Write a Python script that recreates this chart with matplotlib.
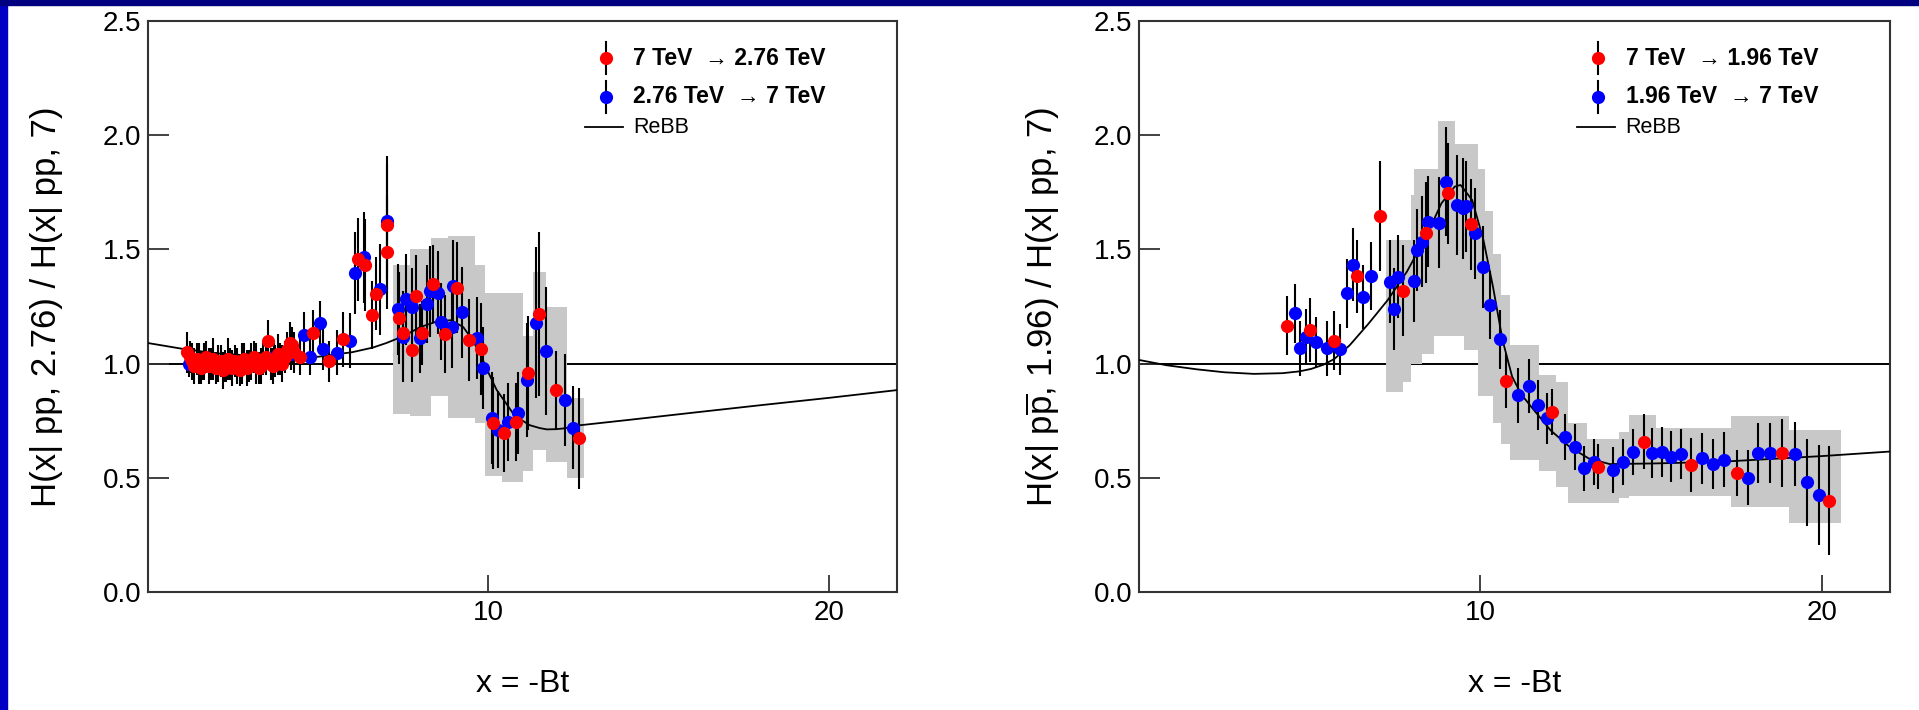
import numpy as np
import matplotlib
matplotlib.use("Agg")
import matplotlib.pyplot as plt
from matplotlib.patches import Rectangle

plt.rcParams['font.family'] = ['Liberation Sans', 'DejaVu Sans']
plt.rcParams['mathtext.fontset'] = 'custom'
plt.rcParams['mathtext.rm'] = 'Liberation Sans'

# ---------------- left panel: 7 TeV <-> 2.76 TeV ----------------
L_red_x = [1.15, 1.22, 1.29, 1.36, 1.43, 1.50, 1.57, 1.64, 1.71, 1.78, 1.85, 1.92, 1.99,
           2.06, 2.13, 2.20, 2.27, 2.34, 2.41, 2.48, 2.55, 2.62, 2.69, 2.76, 2.83, 2.90,
           2.97, 3.04, 3.11, 3.18, 3.25, 3.32, 3.39, 3.46, 3.60, 3.67, 3.74, 3.81, 3.88,
           3.95, 4.02, 4.09, 4.16, 4.23, 4.30,
           3.53, 4.47, 4.86, 5.32, 5.74, 6.18, 6.37, 6.59, 6.69, 7.03, 7.03, 7.38, 7.48,
           7.74, 7.87, 8.06, 8.38, 8.73, 9.09, 9.43, 9.77, 10.12, 10.45, 10.80, 11.15,
           11.49, 11.98, 12.67]
L_red_y = [1.05, 1.03, 1.01, 0.99, 1.02, 1.00, 0.98, 1.01, 1.03, 0.99, 1.00, 1.02, 0.98,
           1.00, 1.01, 0.97, 0.99, 1.02, 1.00, 0.98, 1.01, 0.99, 0.97, 1.00, 1.02, 0.98,
           0.99, 1.01, 1.03, 1.00, 0.98, 0.99, 1.02, 1.03, 1.00, 0.99, 1.01, 1.04, 1.02,
           1.00, 1.03, 1.06, 1.09, 1.08, 1.05,
           1.10, 1.03, 1.135, 1.01, 1.107, 1.456, 1.432, 1.212, 1.305, 1.607, 1.49, 1.20,
           1.132, 1.06, 1.294, 1.134, 1.348, 1.129, 1.332, 1.102, 1.064, 0.74, 0.696,
           0.743, 0.96, 1.217, 0.885, 0.673]
L_red_e = [0.09, 0.07, 0.08, 0.08, 0.07, 0.09, 0.07, 0.08, 0.07, 0.08, 0.07, 0.09, 0.07,
           0.08, 0.07, 0.08, 0.07, 0.09, 0.07, 0.08, 0.07, 0.08, 0.07, 0.09, 0.07, 0.08,
           0.07, 0.08, 0.07, 0.09, 0.07, 0.08, 0.07, 0.08, 0.07, 0.08, 0.07, 0.09, 0.07,
           0.08, 0.07, 0.08, 0.09, 0.08, 0.09,
           0.09, 0.08, 0.10, 0.09, 0.12, 0.18, 0.20, 0.15, 0.16, 0.30, 0.25, 0.20, 0.16,
           0.14, 0.18, 0.14, 0.17, 0.17, 0.20, 0.18, 0.20, 0.20, 0.17, 0.17, 0.25, 0.36,
           0.17, 0.22]

L_blue_x = [1.20, 1.60, 2.30, 3.00, 3.70, 4.20,
            4.58, 4.76, 5.05, 5.15, 5.54, 5.93, 6.08, 6.33, 6.81, 7.03, 7.33, 7.50, 7.58,
            7.74, 8.00, 8.20, 8.28, 8.53, 8.62, 8.92, 8.97, 9.23, 9.65, 9.83, 10.09, 10.29,
            10.58, 10.88, 11.12, 11.39, 11.69, 12.25, 12.49]
L_blue_y = [1.00, 0.99, 0.98, 1.00, 1.03, 1.04,
            1.125, 1.03, 1.176, 1.064, 1.048, 1.10, 1.395, 1.465, 1.325, 1.624, 1.237,
            1.118, 1.281, 1.249, 1.11, 1.26, 1.316, 1.311, 1.184, 1.162, 1.341, 1.225,
            1.112, 0.981, 0.762, 0.711, 0.743, 0.784, 0.928, 1.179, 1.055, 0.841, 0.72]
L_blue_e = [0.06, 0.06, 0.06, 0.06, 0.07, 0.07,
            0.10, 0.08, 0.10, 0.09, 0.10, 0.12, 0.18, 0.20, 0.20, 0.25, 0.20, 0.20, 0.20,
            0.17, 0.15, 0.17, 0.20, 0.18, 0.17, 0.18, 0.20, 0.20, 0.18, 0.18, 0.20, 0.17,
            0.17, 0.18, 0.25, 0.33, 0.28, 0.20, 0.18]

L_band_edges = [7.2, 7.7, 8.3, 8.8, 9.6, 9.9, 10.4, 11.0, 11.3, 11.7, 12.3, 12.8]
L_band_hi = [1.43, 1.50, 1.55, 1.56, 1.43, 1.31, 1.31, 1.12, 1.40, 1.25, 0.85]
L_band_lo = [0.78, 0.77, 0.86, 0.76, 0.74, 0.51, 0.48, 0.53, 0.62, 0.57, 0.50]

L_rebb_x = [0.0, 1.0, 2.0, 3.0, 4.0, 5.0, 6.0, 6.6, 7.0, 7.5, 8.0, 8.5, 8.9, 9.26, 9.5,
            9.75, 10.0, 10.24, 10.5, 10.73, 11.0, 11.22, 11.5, 11.71, 12.0, 12.2, 12.68,
            14.15, 16.0, 18.0, 20.0, 22.0]
L_rebb_y = [1.09, 1.065, 1.045, 1.035, 1.03, 1.03, 1.05, 1.07, 1.09, 1.12, 1.16, 1.185,
            1.19, 1.16, 1.11, 1.045, 0.96, 0.885, 0.83, 0.78, 0.75, 0.73, 0.718, 0.712,
            0.713, 0.716, 0.73, 0.754, 0.785, 0.818, 0.85, 0.884]

# ---------------- right panel: 7 TeV <-> 1.96 TeV ----------------
R_red_x = [4.35, 5.01, 5.70, 6.39, 7.07, 7.74, 8.41, 9.06, 9.73, 10.76, 12.11, 13.46,
           14.80, 16.17, 17.51, 18.85, 20.20]
R_red_y = [1.166, 1.147, 1.10, 1.383, 1.646, 1.319, 1.573, 1.745, 1.61, 0.925, 0.787,
           0.549, 0.658, 0.556, 0.52, 0.609, 0.40]
R_red_e = [0.13, 0.14, 0.13, 0.16, 0.24, 0.20, 0.22, 0.22, 0.20, 0.12, 0.10, 0.10, 0.12,
           0.12, 0.10, 0.15, 0.24]

R_blue_x = [4.58, 4.71, 4.88, 5.18, 5.50, 5.89, 6.09, 6.28, 6.56, 6.79, 7.35, 7.46, 7.60,
            8.05, 8.13, 8.30, 8.47, 8.80, 9.00, 9.31, 9.48, 9.59, 9.85, 10.07, 10.29,
            10.57, 11.10, 11.42, 11.70, 11.94, 12.47, 12.76, 13.04, 13.34, 13.90, 14.19,
            14.46, 15.03, 15.31, 15.59, 15.87, 16.50, 16.82, 17.15, 17.83, 18.14, 18.49,
            19.21, 19.57, 19.93]
R_blue_y = [1.22, 1.067, 1.118, 1.096, 1.067, 1.062, 1.308, 1.432, 1.293, 1.383, 1.359,
            1.238, 1.381, 1.36, 1.497, 1.534, 1.621, 1.617, 1.797, 1.694, 1.68, 1.688,
            1.57, 1.424, 1.257, 1.106, 0.862, 0.902, 0.819, 0.76, 0.68, 0.634, 0.541,
            0.57, 0.534, 0.57, 0.614, 0.607, 0.614, 0.593, 0.603, 0.585, 0.56, 0.579,
            0.50, 0.609, 0.609, 0.603, 0.48, 0.425]
R_blue_e = [0.13, 0.12, 0.12, 0.11, 0.12, 0.11, 0.15, 0.16, 0.14, 0.15, 0.18, 0.18, 0.18,
            0.18, 0.18, 0.20, 0.20, 0.20, 0.24, 0.22, 0.22, 0.20, 0.20, 0.18, 0.15, 0.13,
            0.12, 0.12, 0.11, 0.11, 0.10, 0.10, 0.10, 0.10, 0.10, 0.10, 0.10, 0.11, 0.11,
            0.11, 0.11, 0.11, 0.11, 0.12, 0.12, 0.13, 0.13, 0.14, 0.19, 0.22]

R_band_edges = [7.23, 7.74, 7.96, 8.05, 8.30, 8.64, 8.75, 9.25, 9.53, 9.92, 10.15, 10.37,
                10.60, 10.88, 11.72, 12.22, 12.56, 13.12, 14.07, 14.35, 15.14, 17.33,
                19.03, 20.55]
R_band_hi = [1.54, 1.54, 1.74, 1.85, 1.85, 1.85, 2.06, 1.96, 1.96, 1.85, 1.67, 1.48, 1.30,
             1.08, 0.95, 0.92, 0.74, 0.67, 0.70, 0.775, 0.72, 0.77, 0.71]
R_band_lo = [0.877, 0.92, 1.00, 1.00, 1.04, 1.12, 1.12, 1.12, 1.06, 0.857, 0.857, 0.74,
             0.649, 0.576, 0.53, 0.46, 0.39, 0.39, 0.41, 0.42, 0.42, 0.37, 0.30]

R_rebb_x = [0.0, 0.8, 1.69, 2.5, 3.37, 4.2, 4.7, 5.05, 5.4, 5.72, 6.17, 6.73, 7.29, 7.85,
            8.41, 8.86, 9.25, 9.42, 9.76, 10.09, 10.37, 10.65, 10.93, 11.2, 11.49, 12.05,
            12.61, 13.17, 13.79, 15.14, 17.02, 20.0, 22.0]
R_rebb_y = [1.016, 0.993, 0.975, 0.962, 0.955, 0.958, 0.966, 0.977, 0.995, 1.02, 1.08,
            1.176, 1.279, 1.403, 1.556, 1.702, 1.775, 1.782, 1.716, 1.541, 1.336, 1.103,
            0.943, 0.865, 0.811, 0.709, 0.636, 0.585, 0.56, 0.563, 0.57, 0.595, 0.615]

W, H = 1919, 710
fig = plt.figure(figsize=(W / 100, H / 100), dpi=100)
fig.patch.set_facecolor('white')
# slide frame
fig.patches.append(Rectangle((0, 0), 7 / W, 1, transform=fig.transFigure,
                             color='#0000c4', zorder=0))
fig.patches.append(Rectangle((0, 1 - 5 / H), 1, 5 / H, transform=fig.transFigure,
                             color='#000080', zorder=0))


def panel(left_px, right_px, ylabel, ylab_x, bx, blo, bhi, rx, ry, bxs, bys, bes,
          rxs, rys, res, leg):
    ax = fig.add_axes([left_px / W, 1 - 592 / H, (right_px - left_px) / W, 571 / H])
    ax.set_xlim(0, 22)
    ax.set_ylim(0, 2.5)
    ax.axhline(1.0, color='black', lw=1.4, zorder=1)
    ax.fill_between(bx, np.append(blo, blo[-1]), np.append(bhi, bhi[-1]), step='post',
                    color='#c8c8c8', lw=0, zorder=2)
    ax.plot(rx, ry, color='black', lw=1.3, zorder=3)
    ax.errorbar(bxs, bys, yerr=bes, fmt='none', ecolor='black', elinewidth=1.5, zorder=4)
    ax.errorbar(rxs, rys, yerr=res, fmt='none', ecolor='black', elinewidth=1.5, zorder=4)
    ax.plot(bxs, bys, 'o', color='#0000ff', ms=9.5, mew=0, zorder=5)
    ax.plot(rxs, rys, 'o', color='#ff0000', ms=9.5, mew=0, zorder=6)

    ax.set_xticks([10, 20])
    ax.set_yticks([0.0, 0.5, 1.0, 1.5, 2.0, 2.5])
    ax.set_yticklabels(['0.0', '0.5', '1.0', '1.5', '2.0', '2.5'])
    ax.tick_params(axis='x', direction='in', length=12, width=1.3, labelsize=20, pad=6,
                   color='#333333')
    ax.tick_params(axis='y', direction='in', length=15, width=1.3, labelsize=20, pad=5,
                   color='#333333')
    for s in ax.spines.values():
        s.set_linewidth(1.5)
        s.set_color('#333333')
    ax.text(ylab_x, 0.5, ylabel, transform=ax.transAxes, rotation=90, ha='center',
            va='center', fontsize=25)
    ax.text(0.5, (592 - 684) / 571, 'x = -Bt', transform=ax.transAxes, ha='center',
            va='center', fontsize=23)

    # legend
    mx, tx = 0.611, 0.648
    for yy, col, lab in [(0.935, '#ff0000', leg[0]), (0.867, '#0000ff', leg[1])]:
        ax.plot([mx, mx], [yy - 0.028, yy + 0.028], color='black', lw=1.5,
                transform=ax.transAxes, zorder=7)
        ax.plot([mx], [yy], 'o', color=col, ms=9.5, mew=0, transform=ax.transAxes,
                zorder=8)
        ax.text(tx, yy, lab, transform=ax.transAxes, ha='left', va='center',
                fontsize=16.5, fontweight='bold')
    ax.plot([0.583, 0.634], [0.814, 0.814], color='black', lw=1.3, transform=ax.transAxes)
    ax.text(tx, 0.814, 'ReBB', transform=ax.transAxes, ha='left', va='center',
            fontsize=15.5)
    return ax


panel(148, 897, 'H(x| pp, 2.76) / H(x| pp, 7)', -0.136, L_band_edges, L_band_lo,
      L_band_hi, L_rebb_x, L_rebb_y, L_blue_x, L_blue_y, L_blue_e, L_red_x, L_red_y,
      L_red_e, ['7 TeV  \u2192 2.76 TeV', '2.76 TeV  \u2192 7 TeV'])
panel(1139, 1890, r'H(x| p$\overline{\mathrm{p}}$, 1.96) / H(x| pp, 7)', -0.128,
      R_band_edges, R_band_lo, R_band_hi, R_rebb_x, R_rebb_y, R_blue_x, R_blue_y,
      R_blue_e, R_red_x, R_red_y, R_red_e,
      ['7 TeV  \u2192 1.96 TeV', '1.96 TeV  \u2192 7 TeV'])

fig.savefig('out.png', dpi=100)
